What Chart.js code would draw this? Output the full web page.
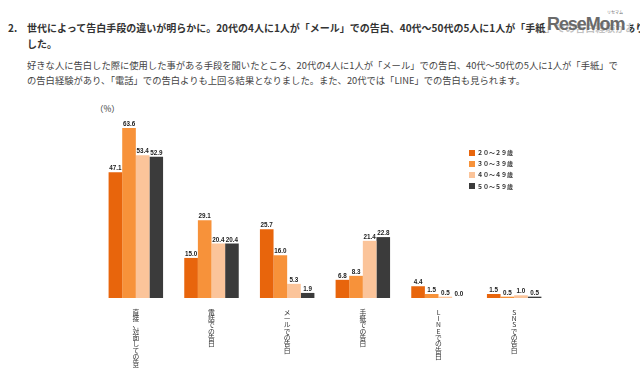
<!DOCTYPE html>
<html lang="ja">
<head>
<meta charset="utf-8">
<script src="https://cdn.jsdelivr.net/npm/chart.js@4"></script>
<style>
  html, body { margin: 0; padding: 0; background: #fff; }
  body { width: 640px; height: 384px; position: relative; overflow: hidden;
         font-family: "Noto Sans CJK JP", "Noto Sans", sans-serif; color: #333; }
  #chartWrap { position: absolute; left: 0; top: 0; width: 640px; height: 384px; }
  .head { position: absolute; left: 8px; top: 20px; font-size: 10px; font-weight: bold;
          line-height: 16px; color: #333; white-space: nowrap; }
  .head .num { display: inline-block; width: 19px; }
  .head .indent { padding-left: 19px; }
  .lead { position: absolute; left: 27px; top: 58px; font-size: 9.3px; line-height: 15px;
          color: #444; white-space: nowrap; }
  .logo { position: absolute; left: 546px; top: 12px; padding: 2px 6px 1px 1px;
          background: rgba(255, 255, 255, 0.7);
          font-family: "Liberation Sans", Arial, sans-serif;
          font-weight: bold; font-size: 18px; letter-spacing: -1.1px; color: #6a6a6a;
          line-height: 20px; white-space: nowrap; }
  .logo small { position: absolute; left: 61px; top: -2px; font-size: 4px; letter-spacing: 0;
                line-height: 5px; font-family: "Noto Sans CJK JP", sans-serif; font-weight: normal; }
  .unit { position: absolute; left: 95px; top: 102px; font-size: 8.5px; color: #333; }
  #legend { position: absolute; left: 469px; top: 147px; font-size: 6px; font-weight: bold;
            color: #333; line-height: 11.2px; }
  #legend span.box { display: inline-block; width: 6px; height: 6px; margin-right: 2px;
                     vertical-align: -0.5px; }
</style>
</head>
<body>
<div class="head"><span class="num">2.</span>世代によって告白手段の違いが明らかに。20代の4人に1人が「メール」での告白、40代～50代の5人に1人が「手紙」での告白経験がありま<br><span class="indent">した。</span></div>
<div class="lead">好きな人に告白した際に使用した事がある手段を聞いたところ、20代の4人に1人が「メール」での告白、40代～50代の5人に1人が「手紙」で<br>の告白経験があり、「電話」での告白よりも上回る結果となりました。また、20代では「LINE」での告白も見られます。</div>
<div class="logo"><small>リセマム</small>ReseMom</div>
<div class="unit">（%）</div>
<div id="chartWrap"><canvas id="surveyChart"></canvas></div>
<div id="legend"></div>
<script>
// Categories and series (percent)
const categories = ['直接、対面しての告白', '電話での告白', 'メールでの告白', '手紙での告白', 'LINEでの告白', 'SNSでの告白'];
const ageGroups = ['２０～２９歳', '３０～３９歳', '４０～４９歳', '５０～５９歳'];
const age20s = [47.1, 15.0, 25.7, 6.8, 4.4, 1.5];
const age30s = [63.6, 29.1, 16.0, 8.3, 1.5, 0.5];
const age40s = [53.4, 20.4, 5.3, 21.4, 0.5, 1.0];
const age50s = [52.9, 20.4, 1.9, 22.8, 0.0, 0.5];
const colors = ['#e8650c', '#f7923a', '#fbc49a', '#3b3b3b'];

// value labels above each bar
const valueLabels = {
    id: 'valueLabels',
    afterDatasetsDraw(chart) {
        const ctx = chart.ctx;
        ctx.save();
        ctx.font = 'bold 6.3px "Liberation Sans", sans-serif';
        ctx.fillStyle = '#222';
        ctx.textAlign = 'center';
        ctx.textBaseline = 'bottom';
        chart.data.datasets.forEach((ds, i) => {
            chart.getDatasetMeta(i).data.forEach((bar, j) => {
                ctx.fillText(ds.data[j].toFixed(1), bar.x, bar.y - 0.5);
            });
        });
        ctx.restore();
    }
};

const seriesData = [age20s, age30s, age40s, age50s];
const ctx = document.getElementById('surveyChart').getContext('2d');
const surveyChart = new Chart(ctx, {
    type: 'bar',
    data: {
        labels: categories,
        datasets: ageGroups.map((name, i) => ({
            label: name,
            data: seriesData[i],
            backgroundColor: colors[i],
            categoryPercentage: 0.72,
            barPercentage: 1.0
        }))
    },
    options: {
        responsive: true,
        maintainAspectRatio: false,
        animation: false,
        layout: { padding: { left: 98, right: 88, top: 111, bottom: 16 } },
        plugins: { legend: { display: false }, tooltip: { enabled: false } },
        scales: {
            x: {
                grid: { display: false },
                border: { display: false },
                ticks: {
                    padding: 3,
                    maxRotation: 0,
                    autoSkip: false,
                    color: '#333',
                    font: { family: '"Noto Sans CJK JP"', size: 6.8, lineHeight: 0.93 },
                    // vertical writing: one character per line
                    callback: (v, i) => Array.from(categories[i])
                },
                afterFit: (scale) => { scale.height = 70; }
            },
            y: {
                display: false,
                min: 0,
                max: 70
            }
        }
    },
    plugins: [valueLabels]
});

// HTML legend built from the chart's datasets
document.getElementById('legend').innerHTML = surveyChart.data.datasets.map(ds =>
    '<div><span class="box" style="background:' + ds.backgroundColor + '"></span>' + ds.label + '</div>'
).join('');
</script>
</body>
</html>
